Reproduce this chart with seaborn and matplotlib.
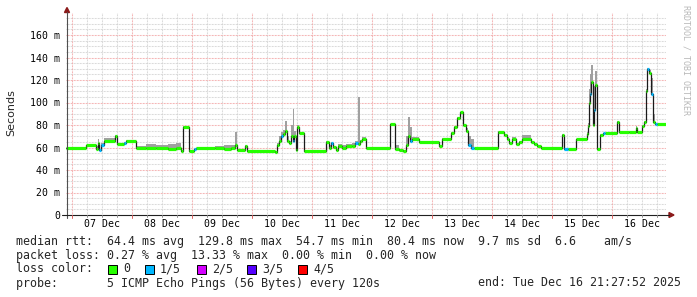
import numpy as np
import pandas as pd
import matplotlib
matplotlib.use("Agg")
import matplotlib.pyplot as plt
import seaborn as sns
from matplotlib.patches import Rectangle, Polygon
from matplotlib.lines import Line2D

# ---------------- data ----------------
# graph start: 06 Dec 2025 21:27:52 (hours since 06 Dec 00:00)
START_HOUR = 21 + 27 / 60 + 52 / 3600
SPAN_HOURS = 240

# hours since graph start where the median steps to a new value
hours = [0.0, 8.0, 12.0, 12.8, 13.2, 14.0, 15.2, 19.6, 20.4, 23.2, 24.0, 28.0, 32.0, 36.0,
         40.8, 44.0, 46.0, 46.8, 49.2, 51.2, 52.0, 59.6, 63.2, 66.0, 67.6, 68.4, 71.6, 72.4,
         83.6, 84.4, 85.2, 86.0, 86.8, 87.6, 88.4, 89.2, 90.0, 90.8, 91.2, 92.0, 92.4, 93.2,
         95.2, 104.0, 105.2, 106.0, 106.8, 108.0, 108.8, 110.4, 112.0, 114.4, 115.6, 116.8,
         117.6, 118.4, 120.0, 129.6, 131.6, 133.2, 134.8, 136.0, 136.8, 137.6, 138.4, 141.2,
         149.2, 150.4, 154.0, 155.2, 156.4, 157.6, 158.8, 160.0, 160.8, 162.0, 163.2, 172.8,
         175.2, 176.4, 177.2, 178.4, 180.0, 181.2, 182.4, 186.0, 187.2, 188.4, 190.0, 198.4,
         199.2, 200.8, 204.0, 208.4, 208.8, 209.2, 209.6, 210.0, 210.8, 211.2, 211.6, 212.4,
         213.6, 214.8, 215.6, 220.4, 221.2, 225.2, 228.0, 228.4, 230.4, 231.2, 232.0, 232.4,
         233.2, 234.0, 234.8, 235.6, 236.4, 240.0]

# median rtt (ms)
median = [59.3, 61.8, 59.0, 64.0, 58.0, 62.0, 66.0, 70.0, 62.8, 64.0, 65.8, 59.3, 59.5, 59.3,
          58.5, 59.3, 57.0, 78.0, 57.0, 58.5, 59.5, 59.5, 58.7, 60.0, 62.0, 57.8, 61.3, 57.2,
          55.7, 62.0, 66.0, 70.0, 72.0, 75.0, 66.0, 63.7, 70.0, 66.0, 70.0, 57.8, 78.5, 73.2,
          57.2, 65.0, 60.0, 64.0, 60.5, 57.5, 61.0, 60.0, 61.0, 61.5, 64.0, 63.0,
          66.0, 68.0, 59.3, 80.5, 58.5, 57.5, 56.5, 62.0, 70.0, 66.0, 68.0, 64.5,
          61.0, 68.0, 73.0, 78.5, 86.0, 91.5, 80.0, 75.0, 62.0, 60.0, 59.3, 74.0,
          71.0, 68.0, 63.7, 68.0, 62.8, 65.2, 67.2, 65.0, 63.0, 61.0, 59.3, 71.0,
          58.7, 58.7, 67.2, 72.0, 79.0, 100.0, 108.0, 118.0, 80.0, 93.0, 115.6, 58.4,
          71.0, 72.6, 72.6, 83.0, 74.0, 73.5, 77.0, 74.0, 79.0, 83.0, 110.0, 129.8,
          126.0, 108.0, 83.0, 80.5, 80.9, 80.4]

# top of the smoke (highest ping, ms)
smoke_hi = [60.0, 62.5, 61.0, 68.0, 59.0, 64.0, 68.5, 71.0, 64.0, 65.0, 66.5, 61.0, 63.0, 62.0,
            63.0, 64.0, 57.5, 79.0, 57.5, 59.0, 60.0, 61.0, 62.0, 62.0, 74.0, 58.5, 62.0, 57.7,
            56.5, 64.0, 70.0, 74.0, 76.0, 84.0, 70.0, 66.0, 80.0, 94.0, 75.0, 60.0, 80.0, 74.0,
            57.7, 66.0, 62.0, 65.0, 61.0, 58.0, 63.0, 62.0, 63.0, 64.0, 66.0, 105.0,
            67.0, 69.0, 60.0, 81.0, 62.0, 58.0, 57.0, 70.0, 87.0, 78.0, 69.0, 65.0,
            61.5, 68.5, 74.0, 79.0, 87.0, 92.0, 81.0, 77.0, 70.0, 68.0, 60.0, 75.0,
            72.0, 69.0, 64.5, 69.0, 63.5, 66.0, 71.0, 66.0, 64.0, 62.0, 60.0, 72.0,
            59.2, 59.2, 68.0, 74.0, 82.0, 112.0, 125.0, 133.0, 100.0, 115.0, 128.0, 59.0,
            72.0, 73.2, 73.2, 84.0, 74.6, 74.5, 79.0, 74.5, 80.0, 84.0, 112.0, 131.0,
            129.0, 122.0, 90.0, 81.0, 81.5, 81.0]

# lost pings out of 5
loss = [0, 0, 0, 0, 1, 1, 0, 0, 0, 1, 0, 0, 0, 0,
        0, 0, 0, 0, 0, 1, 0, 0, 0, 0, 0, 0, 0, 0,
        0, 0, 0, 1, 0, 0, 0, 0, 0, 1, 0, 0, 0, 0,
        0, 0, 0, 1, 0, 0, 0, 0, 0, 0, 1, 0,
        0, 0, 0, 0, 0, 0, 0, 0, 0, 1, 0, 0,
        0, 0, 0, 0, 0, 0, 0, 0, 1, 1, 0, 0,
        0, 0, 0, 0, 0, 0, 0, 0, 0, 0, 0, 0,
        1, 0, 0, 0, 0, 0, 1, 0, 0, 1, 0, 0,
        0, 1, 0, 0, 0, 0, 0, 0, 0, 0, 0, 1,
        0, 1, 0, 1, 0, 0]

day_labels = ["07 Dec", "08 Dec", "09 Dec", "10 Dec", "11 Dec",
              "12 Dec", "13 Dec", "14 Dec", "15 Dec", "16 Dec"]
ytick_values = [0, 20, 40, 60, 80, 100, 120, 140, 160]
ytick_labels = ["0", "20 m", "40 m", "60 m", "80 m", "100 m", "120 m", "140 m", "160 m"]

loss_levels = ["0", "1/5", "2/5", "3/5", "4/5"]
loss_colors = ["#26ff00", "#00b8ff", "#d400ff", "#5500ff", "#ff0000"]

legend_lines = [
    "median rtt:  64.4 ms avg  129.8 ms max  54.7 ms min  80.4 ms now  9.7 ms sd  6.6    am/s",
    "packet loss: 0.27 % avg  13.33 % max  0.00 % min  0.00 % now",
]
probe_text = "probe:       5 ICMP Echo Pings (56 Bytes) every 120s"
end_text = "end: Tue Dec 16 21:27:52 2025"

# ---------------- figure ----------------
sns.set_theme(style="white")
plt.rcParams["font.family"] = ["DejaVu Sans Mono", "DejaVu Sans"]

W, H = 697, 297
fig = plt.figure(figsize=(W / 100, H / 100), dpi=100)
fig.patch.set_facecolor("white")


def fx(px):
    return px / W


def fy(py):
    return 1 - py / H


ax = fig.add_axes([fx(66), fy(215), 600 / W, 202.5 / H])
ax.set_facecolor("white")
x0, x1 = START_HOUR, START_HOUR + SPAN_HOURS
ax.set_xlim(x0, x1)
ax.set_ylim(0, 180)
for s in ax.spines.values():
    s.set_visible(False)

df = pd.DataFrame({
    "t": START_HOUR + np.array(hours),
    "median": median,
    "hi": smoke_hi,
    "loss": loss,
})

# grid
GRID_DOT = (0, (0.72, 0.72))
for h in np.arange(0, 300, 6):
    if x0 < h < x1:
        if h % 24 == 0:
            ax.axvline(h, color="#f2a0a0", lw=0.75, ls=GRID_DOT, zorder=1)
        else:
            ax.axvline(h, color="#d0d0d0", lw=0.75, ls=GRID_DOT, zorder=0.5)
for v in np.arange(5, 180, 5):
    if v % 20 == 0:
        ax.axhline(v, color="#f2a0a0", lw=0.75, ls=GRID_DOT, zorder=1)
    else:
        ax.axhline(v, color="#d0d0d0", lw=0.75, ls=GRID_DOT, zorder=0.5)

# smoke
ax.fill_between(df["t"], df["median"] - 0.8, df["hi"], step="post",
                color="#a0a0a0", lw=0, zorder=2)

# median (black step line)
sns.lineplot(data=df, x="t", y="median", drawstyle="steps-post", color="#1a1a1a",
             lw=0.9, ax=ax, estimator=None, sort=False, zorder=3, legend=False)

# loss-coloured median segments
tv = df["t"].to_numpy()
mv = df["median"].to_numpy()
lv = df["loss"].to_numpy()
for lvl, col in enumerate(loss_colors):
    idx = [i for i in range(len(tv) - 1) if lv[i] == lvl]
    if idx:
        ax.hlines([mv[i] for i in idx], [tv[i] for i in idx], [tv[i + 1] for i in idx],
                  colors=col, lw=2.3, zorder=4, capstyle="butt")

# ticks / labels
ax.set_xticks([24 * (k + 1) + 12 for k in range(len(day_labels))], day_labels)
ax.set_yticks(ytick_values, ytick_labels)
ax.tick_params(axis="both", length=0, labelsize=7.1, colors="#000000")
ax.tick_params(axis="x", pad=3.2)
ax.tick_params(axis="y", pad=4.2)
ax.set_xlabel("")
ax.set_ylabel("")

fig.text(fx(11), fy(113), "Seconds", rotation=90, ha="center", va="center",
         fontsize=8, family="DejaVu Sans")
fig.text(fx(686), fy(5), "RRDTOOL / TOBI OETIKER", rotation=270, ha="center", va="top",
         fontsize=6, color="#b8b8b8", family="DejaVu Sans Mono")

# axis lines and arrows
fig.add_artist(Line2D([fx(67), fx(67)], [fy(218), fy(12)], color="#505050", lw=0.8,
                      transform=fig.transFigure))
fig.add_artist(Line2D([fx(62), fx(669)], [fy(215), fy(215)], color="#202020", lw=0.8,
                      transform=fig.transFigure))
fig.add_artist(Polygon([[fx(64.5), fy(12.5)], [fx(69.5), fy(12.5)], [fx(67), fy(7.5)]],
                       closed=True, color="#8b1a1a", transform=fig.transFigure))
fig.add_artist(Polygon([[fx(669), fy(212.5)], [fx(669), fy(217.5)], [fx(674), fy(215)]],
                       closed=True, color="#8b1a1a", transform=fig.transFigure))
# small ticks on x axis
for h in np.arange(0, 300, 6):
    if x0 < h < x1:
        px = 66 + (h - x0) * 2.5
        col = "#e06060" if h % 24 == 0 else "#909090"
        ln = 3 if h % 24 == 0 else 2
        fig.add_artist(Line2D([fx(px), fx(px)], [fy(215), fy(215 + ln)], color=col, lw=0.7,
                              transform=fig.transFigure))

# legend text
fs = 8.4
fig.text(fx(16), fy(241), legend_lines[0], fontsize=fs, va="center", ha="left")
fig.text(fx(16), fy(255), legend_lines[1], fontsize=fs, va="center", ha="left")
fig.text(fx(16), fy(269), "loss color:", fontsize=fs, va="center", ha="left")
box_x = [108, 145, 197, 247, 298]
for bx, col, lab in zip(box_x, loss_colors, loss_levels):
    fig.add_artist(Rectangle((fx(bx), fy(273.5)), 8.5 / W, 8.5 / H, facecolor=col,
                             edgecolor="black", lw=0.7, transform=fig.transFigure))
    fig.text(fx(bx + 15), fy(269), lab, fontsize=fs, va="center", ha="left")
fig.text(fx(16), fy(283), probe_text, fontsize=fs, va="center", ha="left")
fig.text(fx(681), fy(283), end_text, fontsize=fs, va="center", ha="right")

fig.savefig("out.png", dpi=100, facecolor="white")
